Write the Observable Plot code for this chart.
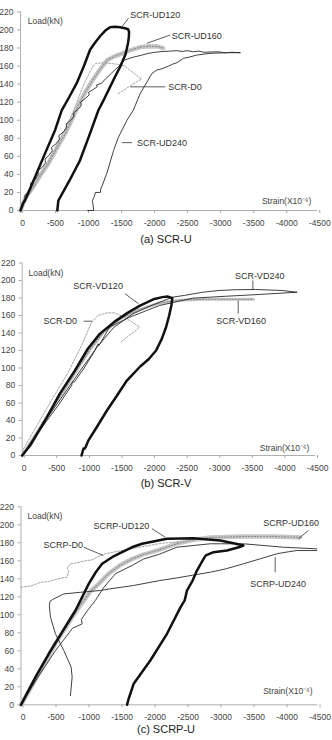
<!DOCTYPE html>
<html><head><meta charset="utf-8">
<script src="https://cdn.jsdelivr.net/npm/d3@7"></script>
<script src="https://cdn.jsdelivr.net/npm/@observablehq/plot@0.6"></script>
<style>
html,body{margin:0;padding:0;background:#fff;}
#page{position:relative;width:332px;height:740px;overflow:hidden;font-family:"Liberation Sans",Arial,sans-serif;}
.panel{position:absolute;left:0;}
.cap{position:absolute;left:0;width:332px;text-align:center;font-size:11px;color:#222;line-height:11px;}
</style></head><body><div id="page"></div>
<script>
// Shared tick values
const loadTicks = [0, 20, 40, 60, 80, 100, 120, 140, 160, 180, 200, 220];
const strainTicks = [0, -500, -1000, -1500, -2000, -2500, -3000, -3500, -4000, -4500];

// ---------- (a) SCR-U ----------
const aUD120Strain = [0, -40, -70, -60, -120, -220, -370, -523, -624, -740, -851, -960, -1053, -1130, -1204, -1280, -1356, -1430, -1507, -1580, -1628, -1643, -1640, -1628, -1590, -1507, -1430, -1356, -1270, -1179, -1040, -901, -740, -573, -557];
const aUD120Load   = [0, 8, 12, 10, 20, 37, 63, 89, 111, 126, 141, 160, 178, 186, 193, 199, 203, 203.5, 203, 202, 200.8, 198, 192, 185.6, 173, 159, 148, 137, 124, 111, 83, 55.6, 33, 11, 0];
const aUD160Strain = [0, -40, -76, -200, -300, -423, -550, -680, -780, -876, -980, -1088, -1200, -1314, -1430, -1556, -1680, -1813, -1950, -2070, -2160];
const aUD160Load   = [0, 8, 14.4, 27, 39, 52, 69, 85.6, 101, 116.7, 131, 144, 156, 166.7, 171, 174.4, 178, 181, 182, 181.7, 180];
const aD0Strain = [0, -150, -370, -520, -672, -790, -880, -960, -1040, -1100, -1140, -1250, -1352, -1470, -1579, -1700, -1831, -1680, -1533, -1473];
const aD0Load   = [0, 20, 48, 68, 90, 108, 125, 140, 152, 160, 163, 163.5, 163, 162, 160, 153, 145.6, 139, 132, 129];
const aUD240Strain = [-1017, -1108, -1100, -1088, -1120, -1133, -1209, -1215, -1239, -1310, -1410, -1481, -1612, -1707, -1813, -1990, -2030, -2065, -2140, -2216, -2300, -2367, -2467, -2560, -2669, -2870, -3122, -3324];
const aUD240Load   = [0, 0, 5, 11, 16, 20, 20, 24, 28, 42, 66.7, 81, 100, 111, 129.7, 151.9, 154, 155.6, 157, 159.2, 162, 163.7, 168.6, 170, 172.2, 174.1, 174.8, 174.8];
const aExtraStrain = [0, -30, -80, -60, -110, -160, -150, -220, -270, -260, -330, -380, -370, -430, -480, -470, -540, -590, -580, -650, -700, -690, -760, -810, -800, -870, -920, -910, -980, -1040, -1030, -1100, -1160, -1150, -1226, -1290, -1377, -1430, -1478, -1530, -1579, -1650, -1730, -1830, -1931, -2010, -2110, -2240, -2367, -2450, -2520, -2618, -2700, -2780, -2870, -3000, -3100, -3200, -3324];
const aExtraLoad   = [0, 8, 12, 16, 20, 26, 30, 34, 40, 44, 48, 53, 57, 61, 66, 70, 74, 79, 83, 87, 92, 96, 100, 104, 108, 112, 116, 120, 124, 128, 131, 134, 137, 139, 141, 146, 152, 156, 159, 163, 166.7, 168.5, 170.3, 172, 174, 175, 175.9, 176.5, 177, 176.2, 177, 175.9, 176.5, 175.2, 175.6, 175.8, 174.6, 175.3, 174.8];
const aNoteText   = ["SCR-UD120", "SCR-UD160", "SCR-D0", "SCR-UD240"];
const aNoteStrain = [-1661, -2291, -2235, -1762];
const aNoteLoad   = [215.9, 193.7, 137, 75.2];
const aLeadS1 = [-1536, -1913, -1661, -1536];
const aLeadL1 = [203.7, 185.2, 137, 75.2];
const aLeadS2 = [-1635, -2265, -2190, -1687];
const aLeadL2 = [213, 194.4, 137, 75.2];

// ---------- (b) SCR-V ----------
const bVD120Strain = [0, -122, -351, -580, -808, -1007, -1190, -1418, -1617, -1800, -2028, -2150, -2227, -2303, -2290, -2255, -2207, -2140, -2054, -1940, -1810, -1700, -1606, -1450, -1300, -1143, -1014, -975, -961, -940, -910];
const bVD120Load   = [0, 11.4, 40, 71, 97, 122, 139, 153, 163, 171, 178.9, 181, 181.7, 179.8, 172, 160, 146.6, 133, 120, 110, 101.7, 93, 85.7, 68, 51.4, 32.3, 17, 10, 8, 8, 0];
const bVD160Strain = [0, -300, -600, -850, -1050, -1250, -1500, -1800, -2100, -2400, -2800, -3200, -3550];
const bVD160Load   = [0, 35, 70, 99, 122, 141, 156, 167, 174, 177.5, 178.5, 178.5, 178.5];
const bVD240Strain = [0, -300, -620, -900, -1150, -1400, -1700, -2000, -2308, -2486, -2765, -3020, -3300, -3579, -3985, -4213];
const bVD240Load   = [0, 34, 68, 98, 124, 146, 162, 172, 181, 182.9, 186.6, 188.6, 189.5, 189.7, 188.6, 186.6];
const bExtraStrain = [0, -330, -560, -758, -770, -800, -950, -1100, -1164, -1180, -1342, -1647, -2105, -2613, -3121, -3630, -4213];
const bExtraLoad   = [0, 35, 58, 80, 84, 84, 100, 118, 127.6, 126, 146.7, 158, 171.4, 179.8, 182, 184, 186.6];
const bD0Strain = [0, -20, -401, -706, -910, -1063, -1164, -1292, -1418, -1571, -1800, -1749, -1673, -1571, -1520];
const bD0Load   = [0, 7.6, 57, 95, 125.7, 152, 160, 163, 163, 158, 147, 143, 139, 133, 130];
const bNoteText   = ["SCR-VD120", "SCR-D0", "SCR-VD240", "SCR-VD160"];
const bNoteStrain = [-785, -326, -3263, -2979];
const bNoteLoad   = [193.5, 153.5, 204.9, 153.5];
const bLeadS1 = [-1580, -942, -3539, -3314];
const bLeadL1 = [184.8, 153.5, 200, 177];
const bLeadS2 = [-1784, -1071, -3539, -3314];
const bLeadL2 = [173.4, 153.5, 189.7, 162];

// ---------- (c) SCRP-U ----------
const cUD120Strain = [0, -219, -421, -623, -825, -1026, -1130, -1229, -1380, -1531, -1680, -1834, -2136, -2212, -2614, -3018, -3220, -3371, -3300, -3120, -2917, -2800, -2766, -2666, -2600, -2515, -2480, -2414, -2212, -1959, -1707, -1631, -1607];
const cUD120Load   = [0, 30.7, 56.7, 80.7, 104.8, 134.4, 147, 156.7, 164, 169.6, 175, 178.9, 183.3, 184.4, 185.1, 182.6, 179.6, 177, 175, 171.4, 169.6, 166, 162.2, 149.2, 138, 127, 116, 108, 78.9, 49.2, 23.3, 6.7, 0];
const cUD160Strain = [0, -250, -522, -800, -1050, -1177, -1328, -1500, -1682, -1850, -2085, -2363, -2600, -2867, -3371, -3800, -4179, -4229];
const cUD160Load   = [0, 32, 68, 100, 126, 134.4, 145.6, 155, 162, 167, 172, 179, 183, 186, 187, 187, 186.2, 186];
const cExtraStrain = [0, -250, -520, -780, -926, -915, -1000, -1127, -1250, -1430, -1682, -1858, -2085, -2363, -2867, -3371, -3976, -4481];
const cExtraLoad   = [0, 30, 60, 85, 90, 95, 104, 116, 130, 145.6, 154.8, 162, 167, 175.1, 178.9, 178.9, 175.1, 173.3];
const cUD240Strain = [-749, -775, -760, -648, -522, -446, -430, -440, -480, -560, -648, -900, -1203, -1354, -1707, -2100, -2363, -2600, -2867, -3100, -3371, -3624, -3876, -4050, -4179, -4481];
const cUD240Load   = [10.3, 30.7, 41.8, 60.3, 78.9, 97.4, 110, 115, 117, 120, 123.2, 125, 127, 128.9, 132.6, 138, 141, 144, 147.3, 151, 156.7, 162.2, 167.8, 170, 171.4, 171.4];
const cD0Strain = [0, -150, -295, -421, -548, -699, -723, -700, -749, -825, -1002, -1077, -1203, -1278, -1531, -1934, -2136, -2400];
const cD0Load   = [130.6, 132, 136, 137, 139.9, 141.8, 149.2, 152, 156.7, 157.5, 160.3, 161, 166, 167.8, 171.4, 177, 179.6, 181];
const cNoteText   = ["SCRP-UD120", "SCRP-D0", "SCRP-UD160", "SCRP-UD240"];
const cNoteStrain = [-1097, -340, -3669, -3472];
const cNoteLoad   = [198.4, 177, 201.8, 134.4];
const cLeadS1 = [-1985, -950, -4354, -3851];
const cLeadL1 = [195.6, 175.1, 193.7, 164];
const cLeadS2 = [-2186, -1248, -4203, -3851];
const cLeadL2 = [186.2, 165.9, 184.4, 147.3];

// Axis titles (placed in data units)
const loadTitlePos = [[-110, 210], [-96, 208.8], [-98, 209.6]];
const strainTitlePos = [[-3654, 10], [-3646, 8.8], [-3669, 15.1]];

const zip = (s, l) => s.map((v, i) => ({s: v, l: l[i]}));
const notes = (t, s, l) => t.map((v, i) => ({text: v, s: s[i], l: l[i]}));
const leads = (s1, l1, s2, l2) => s1.map((v, i) => ({s1: v, l1: l1[i], s2: s2[i], l2: l2[i]}));

// Line styles
const thick = d => Plot.line(d, {x: "s", y: "l", stroke: "#111", strokeWidth: 2.5});
const thin = d => Plot.line(d, {x: "s", y: "l", stroke: "#2a2a2a", strokeWidth: 0.9});
const dashed = d => Plot.line(d, {x: "s", y: "l", stroke: "#9a9a9a", strokeWidth: 0.9, strokeDasharray: "2,1.5"});
const band = (d, w) => [
  Plot.line(d, {x: "s", y: "l", stroke: "#c6c6c6", strokeWidth: w}),
  Plot.line(d, {x: "s", y: "l", stroke: "#8c8c8c", strokeWidth: 1.1, strokeDasharray: "1,2"})
];

const panels = [
  {
    top: 0, height: 230, mt: 11.4, mb: 20, ml: 20, mr: 14.7, idx: 0,
    caption: "(a)  SCR-U", capTop: 233.5,
    lines: [band(zip(aUD160Strain, aUD160Load), 4.4), dashed(zip(aD0Strain, aD0Load)), thin(zip(aExtraStrain, aExtraLoad)), thin(zip(aUD240Strain, aUD240Load)), thick(zip(aUD120Strain, aUD120Load))],
    notes: notes(aNoteText, aNoteStrain, aNoteLoad),
    leads: leads(aLeadS1, aLeadL1, aLeadS2, aLeadL2)
  },
  {
    top: 250, height: 225, mt: 12.5, mb: 20, ml: 21.7, mr: 17, idx: 1,
    caption: "(b)  SCR-V", capTop: 478,
    lines: [band(zip(bVD160Strain, bVD160Load), 3), dashed(zip(bD0Strain, bD0Load)), thin(zip(bExtraStrain, bExtraLoad)), thin(zip(bVD240Strain, bVD240Load)), thick(zip(bVD120Strain, bVD120Load))],
    notes: notes(bNoteText, bNoteStrain, bNoteLoad),
    leads: leads(bLeadS1, bLeadL1, bLeadS2, bLeadL2)
  },
  {
    top: 495, height: 229.3, mt: 11.3, mb: 20, ml: 20.5, mr: 14.5, idx: 2,
    caption: "(c)  SCRP-U", capTop: 723.5,
    lines: [band(zip(cUD160Strain, cUD160Load), 4.4), dashed(zip(cD0Strain, cD0Load)), thin(zip(cExtraStrain, cExtraLoad)), thin(zip(cUD240Strain, cUD240Load)), thick(zip(cUD120Strain, cUD120Load))],
    notes: notes(cNoteText, cNoteStrain, cNoteLoad),
    leads: leads(cLeadS1, cLeadL1, cLeadS2, cLeadL2)
  }
];

const page = document.getElementById("page");

for (const p of panels) {
  const chart = Plot.plot({
    width: 332,
    height: p.height,
    marginTop: p.mt,
    marginBottom: p.mb,
    marginLeft: p.ml,
    marginRight: p.mr,
    style: {fontFamily: "'Liberation Sans', Arial, sans-serif", fontSize: "8.5px", background: "transparent", overflow: "visible"},
    x: {domain: [0, -4500]},
    y: {domain: [0, 220]},
    marks: [
      Plot.ruleY([0], {stroke: "#9a9a9a", strokeWidth: 0.8}),
      Plot.ruleX([0], {stroke: "#9a9a9a", strokeWidth: 0.8}),
      Plot.axisY({ticks: loadTicks, tickSize: 3, tickPadding: 4, stroke: "#aaa", fill: "#444", tickFormat: d => String(d)}),
      Plot.axisX({ticks: strainTicks, tickSize: 3, tickPadding: 6.5, stroke: "#aaa", fill: "#444", dx: 2, tickFormat: d => String(d)}),
      ...p.lines.flat(),
      Plot.link(p.leads, {x1: "s1", y1: "l1", x2: "s2", y2: "l2", stroke: "#333", strokeWidth: 0.8}),
      Plot.text(p.notes, {x: "s", y: "l", text: "text", textAnchor: "start", fontSize: 9, fill: "#333"}),
      Plot.text([loadTitlePos[p.idx]], {x: d => d[0], y: d => d[1], text: () => "Load(kN)", textAnchor: "start", fontSize: 8.5, fill: "#444"}),
      Plot.text([strainTitlePos[p.idx]], {x: d => d[0], y: d => d[1], text: () => "Strain(X10⁻⁶)", textAnchor: "start", fontSize: 8.5, fill: "#444"})
    ]
  });
  chart.classList.add("panel");
  chart.style.top = p.top + "px";
  page.appendChild(chart);
  const cap = document.createElement("div");
  cap.className = "cap";
  cap.style.top = p.capTop + "px";
  cap.textContent = p.caption;
  page.appendChild(cap);
}
</script></body></html>
